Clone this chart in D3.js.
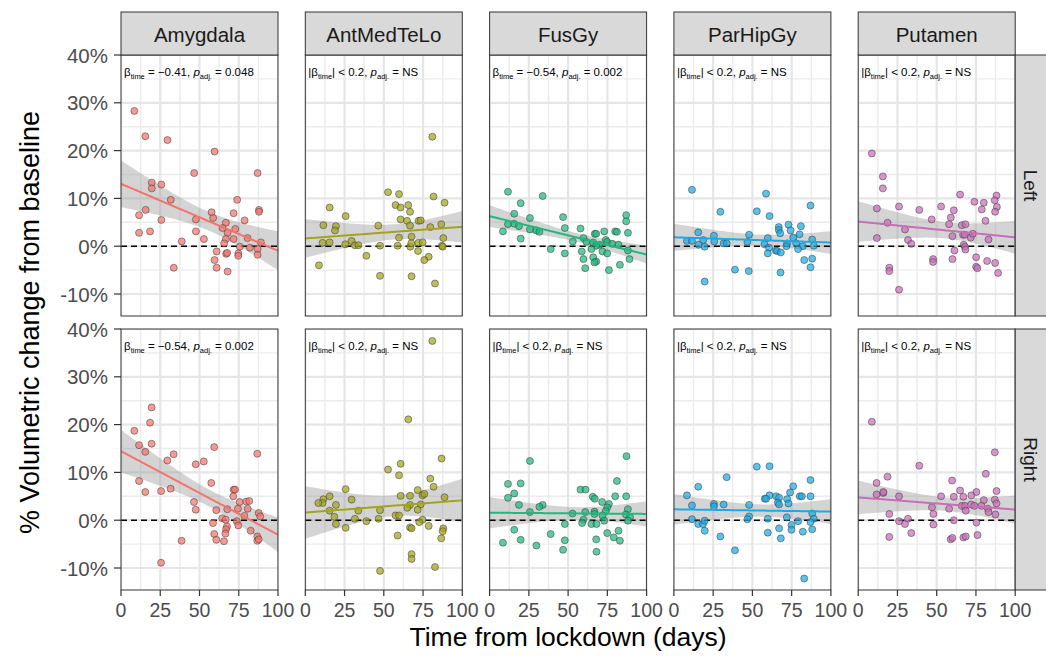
<!DOCTYPE html>
<html>
<head>
<meta charset="utf-8">
<script src="https://cdn.jsdelivr.net/npm/d3@7"></script>
<style>
  body { margin: 0; background: #fff; }
  svg { font-family: "Liberation Sans", Arial, sans-serif; }
</style>
</head>
<body>
<div id="chart"></div>
<script>
// facets
const regions = ['Amygdala', 'AntMedTeLo', 'FusGy', 'ParHipGy', 'Putamen'];
const sides = ['Left', 'Right'];
const colours = ['#F4736B', '#A2A41C', '#1DB97E', '#1AABE3', '#C96DB8'];

// axis ticks
const xTicks = [0, 25, 50, 75, 100];
const yTicks = [-10, 0, 10, 20, 30, 40];

// stats annotations (null = not significant)
const betaLeft = ['−0.41', null, '−0.54', null, null];
const pLeft = ['0.048', null, '0.002', null, null];
const betaRight = ['−0.54', null, null, null, null];
const pRight = ['0.002', null, null, null, null];

// [days from lockdown, % volumetric change]
const amygdalaLeft = [[8.5,28.3],[15.5,23.0],[29.6,22.2],[59.6,19.8],[46.6,15.3],[87.0,15.3],[19.6,13.3],[19.6,12.1],[25.7,12.9],[31.7,9.7],[74.0,9.7],[11.5,6.5],[15.7,7.6],[25.7,5.5],[47.7,5.6],[57.7,7.1],[58.7,5.9],[71.7,6.9],[87.9,7.6],[87.9,7.2],[11.5,2.8],[18.5,3.1],[47.7,3.1],[66.8,4.9],[64.7,3.8],[67.9,2.8],[72.8,3.6],[78.7,5.4],[52.8,1.5],[38.7,1.0],[71.7,1.5],[66.8,1.5],[65.7,0.6],[80.6,1.7],[75.7,-0.1],[82.1,-0.3],[89.1,0.8],[60.9,-1.1],[67.0,-1.6],[67.6,-1.4],[74.7,-1.5],[87.0,-0.6],[87.0,-1.8],[59.6,-2.9],[60.9,-4.5],[33.6,-4.5],[67.9,-5.3],[74.7,-2.0]];
const antMedTeLoLeft = [[80.9,22.9],[52.7,11.3],[59.7,10.9],[81.7,10.4],[88.7,9.1],[15.5,8.1],[57.5,8.6],[60.7,8.1],[65.6,8.6],[66.7,7.2],[25.7,6.3],[60.7,5.6],[64.8,5.3],[66.7,4.3],[72.2,5.3],[73.5,5.4],[11.5,4.4],[19.5,4.2],[18.9,3.3],[46.5,4.3],[79.6,4.0],[86.6,4.6],[67.7,2.0],[59.7,1.8],[87.9,1.7],[11.0,0.7],[15.5,0.8],[25.5,0.4],[29.5,1.1],[31.6,0.2],[33.8,0.2],[47.6,0.1],[58.8,0.1],[66.9,-0.1],[67.5,0.6],[72.0,0.7],[74.7,0.8],[87.0,0.1],[87.5,-0.1],[71.8,-1.0],[38.9,-2.0],[78.6,-2.2],[75.8,-2.9],[8.7,-4.0],[47.6,-6.2],[67.7,-6.3],[82.6,-7.8]];
const fusGyLeft = [[11.7,11.4],[33.8,10.5],[19.8,9.0],[15.7,6.8],[25.7,5.9],[46.8,6.1],[87.0,6.5],[87.0,5.2],[11.7,4.6],[15.7,4.7],[18.7,4.2],[8.5,3.1],[25.7,3.5],[29.8,3.3],[31.7,3.0],[47.9,3.8],[57.9,3.7],[19.8,1.6],[53.0,1.0],[59.8,1.7],[67.0,2.6],[67.9,2.6],[73.0,3.1],[80.0,3.1],[81.1,3.0],[88.1,2.8],[61.7,0.9],[66.0,0.8],[74.0,1.3],[74.9,0.9],[78.1,0.5],[82.1,0.3],[70.0,0.3],[67.9,0.1],[38.9,-0.6],[64.9,-0.6],[71.9,-1.1],[88.1,-0.9],[47.9,-1.5],[58.7,-1.1],[74.9,-1.5],[59.8,-2.7],[66.0,-2.3],[67.9,-3.2],[66.8,-3.4],[89.1,-2.7],[83.0,-3.9],[60.9,-4.6],[76.0,-5.0]];
const parHipGyLeft = [[11.5,11.8],[58.7,11.0],[29.6,7.2],[52.8,7.3],[60.9,6.3],[87.0,8.5],[66.8,4.0],[66.8,3.4],[73.0,4.5],[74.3,3.3],[80.9,4.2],[67.7,2.7],[15.5,2.9],[25.5,2.2],[47.9,2.4],[59.8,1.7],[80.0,2.5],[76.0,1.8],[8.3,1.1],[11.5,1.1],[18.7,1.3],[25.7,1.0],[31.7,0.6],[33.6,0.6],[46.8,0.9],[57.7,0.4],[88.1,1.4],[72.1,0.6],[77.9,0.6],[15.7,0.3],[19.6,-0.1],[60.6,-0.3],[71.7,0.0],[89.1,0.1],[82.1,0.0],[79.1,-0.6],[59.8,-1.5],[64.9,-0.9],[65.7,-1.0],[68.1,-1.3],[83.0,-2.9],[88.1,-2.6],[87.0,-4.4],[38.9,-4.9],[47.7,-5.2],[67.9,-5.5],[19.6,-7.4]];
const putamenLeft = [[8.7,19.4],[15.7,14.6],[15.7,12.1],[64.9,10.8],[88.1,10.6],[87.0,9.6],[74.0,9.3],[80.0,9.1],[11.9,7.9],[26.0,8.3],[38.9,7.6],[52.8,8.3],[60.9,7.5],[88.3,8.2],[78.7,7.7],[87.2,7.2],[59.0,6.0],[46.8,5.6],[18.7,4.9],[57.9,4.6],[81.1,5.3],[66.0,4.4],[68.3,4.6],[29.8,3.5],[11.9,1.7],[60.0,2.1],[66.8,2.4],[67.9,2.4],[71.7,1.8],[73.0,2.6],[31.7,1.3],[33.8,0.5],[83.0,1.4],[67.2,0.3],[67.9,-0.1],[68.3,-0.7],[61.3,-0.9],[60.0,-2.7],[47.7,-2.7],[47.7,-3.3],[75.1,-2.3],[82.1,-3.1],[87.2,-3.5],[75.1,-4.3],[75.9,-4.6],[89.1,-5.6],[19.8,-4.5],[19.8,-5.2],[26.0,-9.1]];

const amygdalaRight = [[19.5,23.6],[18.5,20.4],[8.5,18.7],[11.5,15.7],[19.5,16.0],[15.5,14.3],[59.4,15.3],[86.8,13.9],[33.5,13.8],[29.5,12.5],[47.6,11.7],[52.7,12.3],[11.5,8.2],[15.5,5.9],[25.5,6.1],[31.6,6.6],[57.5,7.8],[71.8,6.4],[72.6,6.4],[71.5,5.0],[46.5,3.8],[47.6,2.2],[60.7,2.1],[67.7,2.3],[75.6,3.8],[79.8,3.9],[81.7,4.0],[80.7,2.4],[74.5,2.4],[87.7,1.5],[88.7,0.8],[78.6,0.9],[64.5,0.4],[66.7,0.1],[73.7,-0.2],[58.6,-0.6],[74.7,-1.1],[67.5,-1.3],[66.9,-1.9],[66.5,-2.8],[59.4,-2.9],[82.6,-2.2],[60.7,-4.1],[65.6,-4.4],[86.8,-3.4],[86.8,-4.3],[87.7,-4.0],[38.6,-4.3],[25.5,-8.9]];
const antMedTeLoRight = [[80.9,37.5],[65.6,21.1],[86.8,12.9],[52.7,10.6],[60.7,11.8],[59.7,9.4],[79.6,8.7],[81.7,7.0],[25.7,6.5],[15.5,5.0],[11.5,4.4],[11.0,3.6],[8.3,3.6],[19.5,3.2],[29.5,4.3],[60.7,5.1],[66.7,5.1],[71.6,6.3],[74.7,5.2],[75.8,5.5],[88.7,4.8],[66.7,3.2],[73.5,3.3],[65.0,2.6],[71.6,2.2],[15.5,2.0],[33.8,2.0],[47.6,2.1],[18.5,0.7],[31.6,0.3],[38.9,-0.2],[46.7,0.3],[57.5,1.0],[59.7,1.0],[19.5,-0.8],[25.7,-1.6],[74.7,0.1],[72.6,-0.4],[78.6,-1.2],[66.7,-1.5],[67.7,-1.7],[87.9,-1.7],[87.5,-2.3],[86.6,-3.8],[58.8,-3.2],[67.7,-7.1],[67.7,-8.1],[47.6,-10.6],[82.6,-9.8]];
const fusGyRight = [[87.2,13.4],[25.7,12.4],[81.1,8.2],[11.7,7.6],[19.8,7.7],[15.7,5.6],[11.7,4.7],[57.9,6.4],[61.1,6.4],[65.7,4.9],[67.0,4.5],[80.0,5.0],[87.0,5.0],[18.7,3.2],[71.7,3.8],[76.0,3.4],[74.9,2.7],[33.8,3.2],[31.7,2.8],[25.7,1.7],[52.8,1.4],[60.9,1.7],[66.8,1.8],[66.8,1.3],[74.0,1.9],[88.1,2.3],[86.8,1.2],[89.4,0.6],[71.9,1.0],[73.0,-0.1],[88.1,-0.1],[59.8,0.1],[58.9,-0.6],[64.9,-0.8],[68.1,-0.8],[47.9,-0.8],[15.7,-2.0],[38.9,-2.9],[74.9,-2.7],[79.1,-3.6],[82.1,-2.2],[83.0,-4.3],[67.9,-4.0],[47.9,-4.2],[19.8,-4.1],[8.5,-4.7],[29.8,-5.3],[46.8,-6.2],[68.1,-6.6]];
const parHipGyRight = [[52.8,11.2],[60.9,11.3],[33.6,9.0],[15.5,7.0],[87.0,8.4],[76.0,7.1],[74.0,5.8],[60.9,5.2],[57.9,4.5],[58.7,4.5],[65.1,5.0],[67.0,4.7],[72.1,4.4],[80.2,5.0],[81.5,5.0],[87.0,5.0],[8.3,5.2],[11.5,3.1],[25.5,3.4],[25.5,2.9],[31.7,3.3],[47.9,3.2],[66.2,3.7],[67.0,3.3],[73.0,3.5],[88.1,1.4],[47.9,0.8],[46.8,0.2],[11.5,0.2],[59.8,0.3],[71.9,0.6],[79.1,-0.2],[89.1,0.3],[87.0,-0.4],[15.5,-0.8],[18.5,-0.8],[19.6,-0.1],[74.9,-1.0],[19.6,-2.2],[67.0,-1.7],[74.9,-2.0],[82.1,-2.4],[88.1,-1.9],[59.8,-2.6],[29.6,-3.4],[68.1,-3.8],[38.9,-6.3],[83.0,-12.2]];
const putamenRight = [[8.7,20.6],[87.0,14.2],[38.9,11.4],[81.3,9.7],[18.7,9.1],[11.7,7.8],[59.8,8.3],[11.7,5.4],[16.0,5.7],[16.0,5.9],[26.0,5.0],[52.8,5.0],[60.9,4.9],[64.9,6.2],[72.1,5.2],[75.3,5.9],[80.0,4.2],[88.1,6.1],[87.0,4.3],[88.1,3.5],[67.0,4.9],[47.0,2.7],[57.9,2.4],[66.0,3.0],[67.9,3.0],[68.5,2.0],[71.9,3.3],[74.0,3.0],[78.5,3.0],[82.6,2.4],[83.0,1.7],[87.4,1.2],[47.9,1.3],[19.8,1.3],[26.0,-0.2],[31.7,0.3],[29.8,-0.8],[47.9,-0.9],[60.9,0.0],[75.3,-0.5],[19.8,-3.5],[33.8,-2.7],[58.9,-4.0],[60.0,-3.7],[67.0,-3.6],[68.5,-3.4],[76.0,-3.1]];

const panelData = {
    Left: [amygdalaLeft, antMedTeLoLeft, fusGyLeft, parHipGyLeft, putamenLeft],
    Right: [amygdalaRight, antMedTeLoRight, fusGyRight, parHipGyRight, putamenRight]
};
const stats = {
    Left: { beta: betaLeft, p: pLeft },
    Right: { beta: betaRight, p: pRight }
};

// layout
const W = 1046, H = 656;
const panelLeft = 121, colStep = 184.3, panelW = 157, panelH = 261;
const rowTops = [55, 329];
const stripH = 43;

const svg = d3.select('#chart')
    .append('svg')
    .attr('width', W)
    .attr('height', H);

const x = d3.scaleLinear().domain([0, 100]).range([0, panelW]);
const y = d3.scaleLinear().domain([-14.6, 40]).range([panelH, 0]);

// simple linear fit with 95% CI, like geom_smooth(method = 'lm')
function lmFit(pts) {
    const n = pts.length;
    const mx = d3.mean(pts, d => d[0]);
    const my = d3.mean(pts, d => d[1]);
    const sxx = d3.sum(pts, d => (d[0] - mx) ** 2);
    const sxy = d3.sum(pts, d => (d[0] - mx) * (d[1] - my));
    const b = sxy / sxx;
    const a = my - b * mx;
    const s2 = d3.sum(pts, d => (d[1] - a - b * d[0]) ** 2) / (n - 2);
    const df = n - 2;
    const t = 1.96 + (1.96 ** 3 + 1.96) / (4 * df);
    return d3.range(0, 100.01, 1).map(xv => {
        const fitv = a + b * xv;
        const se = Math.sqrt(s2 * (1 / n + (xv - mx) ** 2 / sxx));
        return { x: xv, y: fitv, lo: fitv - t * se, hi: fitv + t * se };
    });
}

const defs = svg.append('defs');
defs.append('clipPath').attr('id', 'panelClip')
    .append('rect').attr('width', panelW).attr('height', panelH);

sides.forEach((side, r) => {
    regions.forEach((region, c) => {
        const g = svg.append('g')
            .attr('transform', `translate(${panelLeft + c * colStep},${rowTops[r]})`);
        const colour = colours[c];
        const pts = panelData[side][c];

        g.append('rect')
            .attr('width', panelW).attr('height', panelH)
            .attr('fill', '#fff');

        const inner = g.append('g').attr('clip-path', 'url(#panelClip)');

        // grid: minor then major
        const xMinor = [12.5, 37.5, 62.5, 87.5];
        const yMinor = [-5, 5, 15, 25, 35];
        inner.selectAll('.vminor').data(xMinor).enter().append('line')
            .attr('x1', d => x(d)).attr('x2', d => x(d))
            .attr('y1', 0).attr('y2', panelH)
            .attr('stroke', '#ececec').attr('stroke-width', 1.4);
        inner.selectAll('.hminor').data(yMinor).enter().append('line')
            .attr('y1', d => y(d)).attr('y2', d => y(d))
            .attr('x1', 0).attr('x2', panelW)
            .attr('stroke', '#ececec').attr('stroke-width', 1.4);
        inner.selectAll('.vmajor').data(xTicks).enter().append('line')
            .attr('x1', d => x(d)).attr('x2', d => x(d))
            .attr('y1', 0).attr('y2', panelH)
            .attr('stroke', '#e6e6e6').attr('stroke-width', 2.2);
        inner.selectAll('.hmajor').data(yTicks).enter().append('line')
            .attr('y1', d => y(d)).attr('y2', d => y(d))
            .attr('x1', 0).attr('x2', panelW)
            .attr('stroke', '#e6e6e6').attr('stroke-width', 2.2);

        // fit + ribbon
        const fit = lmFit(pts);
        inner.append('path')
            .datum(fit)
            .attr('d', d3.area().x(d => x(d.x)).y0(d => y(d.lo)).y1(d => y(d.hi)))
            .attr('fill', '#999').attr('fill-opacity', 0.42);

        // zero reference
        inner.append('line')
            .attr('x1', 0).attr('x2', panelW)
            .attr('y1', y(0)).attr('y2', y(0))
            .attr('stroke', '#000').attr('stroke-width', 1.4)
            .attr('stroke-dasharray', '6,4');

        inner.selectAll('.dot')
            .data(pts)
            .enter()
            .append('circle')
            .attr('cx', d => x(d[0]))
            .attr('cy', d => y(d[1]))
            .attr('r', 3.5)
            .attr('fill', colour).attr('fill-opacity', 0.72)
            .attr('stroke', '#3a3a3a').attr('stroke-opacity', 0.8).attr('stroke-width', 0.65);

        inner.append('path')
            .datum(fit)
            .attr('d', d3.line().x(d => x(d.x)).y(d => y(d.y)))
            .attr('fill', 'none')
            .attr('stroke', colour).attr('stroke-width', 2);

        // stats label
        const beta = stats[side].beta[c];
        const p = stats[side].p[c];
        const lab = g.append('text')
            .attr('x', 3).attr('y', 21)
            .attr('font-size', 11.5)
            .attr('fill', '#000');
        if (beta) {
            lab.append('tspan').text('β');
            lab.append('tspan').attr('font-size', 7.5).attr('dy', 2.5).text('time');
            lab.append('tspan').attr('dy', -2.5).text(` = ${beta}, `);
        } else {
            lab.append('tspan').text('|β');
            lab.append('tspan').attr('font-size', 7.5).attr('dy', 2.5).text('time');
            lab.append('tspan').attr('dy', -2.5).text('| < 0.2, ');
        }
        lab.append('tspan').attr('font-style', 'italic').text('p');
        lab.append('tspan').attr('font-size', 7.5).attr('dy', 2.5).text('adj.');
        lab.append('tspan').attr('dy', -2.5).text(` = ${p ? p : 'NS'}`);

        // panel border
        g.append('rect')
            .attr('width', panelW).attr('height', panelH)
            .attr('fill', 'none').attr('stroke', '#333').attr('stroke-width', 1);

        // column strips on top row
        if (r === 0) {
            const s = svg.append('g')
                .attr('transform', `translate(${panelLeft + c * colStep},${rowTops[0] - stripH})`);
            s.append('rect')
                .attr('width', panelW).attr('height', stripH)
                .attr('fill', '#d9d9d9').attr('stroke', '#333').attr('stroke-width', 1);
            s.append('text')
                .attr('x', panelW / 2).attr('y', stripH / 2 + 1)
                .attr('text-anchor', 'middle').attr('dominant-baseline', 'central')
                .attr('font-size', 20.5).attr('fill', '#1a1a1a')
                .text(region);
        }

        // x axis on bottom row
        if (r === 1) {
            const ax = g.append('g').attr('transform', `translate(0,${panelH})`);
            ax.selectAll('line').data(xTicks).enter().append('line')
                .attr('x1', d => x(d)).attr('x2', d => x(d))
                .attr('y1', 0).attr('y2', 6)
                .attr('stroke', '#333').attr('stroke-width', 1.2);
            ax.selectAll('text').data(xTicks).enter().append('text')
                .attr('x', d => x(d)).attr('y', 20)
                .attr('text-anchor', 'middle').attr('dominant-baseline', 'central')
                .attr('font-size', 19.5).attr('fill', '#4d4d4d')
                .text(d => d);
        }

        // y axis on first column
        if (c === 0) {
            const ay = g.append('g');
            ay.selectAll('line').data(yTicks).enter().append('line')
                .attr('x1', -7).attr('x2', 0)
                .attr('y1', d => y(d)).attr('y2', d => y(d))
                .attr('stroke', '#333').attr('stroke-width', 1.2);
            ay.selectAll('text').data(yTicks).enter().append('text')
                .attr('x', -13).attr('y', d => y(d))
                .attr('text-anchor', 'end').attr('dominant-baseline', 'central')
                .attr('font-size', 20.5).attr('fill', '#4d4d4d')
                .text(d => d + '%');
        }
    });

    // row strip on the right
    const rs = svg.append('g')
        .attr('transform', `translate(${panelLeft + 4 * colStep + panelW},${rowTops[r]})`);
    rs.append('rect')
        .attr('width', 34).attr('height', panelH)
        .attr('fill', '#d9d9d9').attr('stroke', '#333').attr('stroke-width', 1);
    rs.append('text')
        .attr('transform', `translate(15,${panelH / 2}) rotate(90)`)
        .attr('text-anchor', 'middle').attr('dominant-baseline', 'central')
        .attr('font-size', 19).attr('fill', '#1a1a1a')
        .text(side);
});

// axis titles
const plotMid = panelLeft + (4 * colStep + panelW) / 2;
svg.append('text')
    .attr('x', plotMid).attr('y', 637)
    .attr('text-anchor', 'middle').attr('dominant-baseline', 'central')
    .attr('font-size', 26.5).attr('fill', '#000')
    .text('Time from lockdown (days)');

svg.append('text')
    .attr('transform', `translate(30,${(rowTops[0] + rowTops[1] + panelH) / 2}) rotate(-90)`)
    .attr('text-anchor', 'middle').attr('dominant-baseline', 'central')
    .attr('font-size', 27).attr('fill', '#000')
    .text('% Volumetric change from baseline');
</script>
</body>
</html>
